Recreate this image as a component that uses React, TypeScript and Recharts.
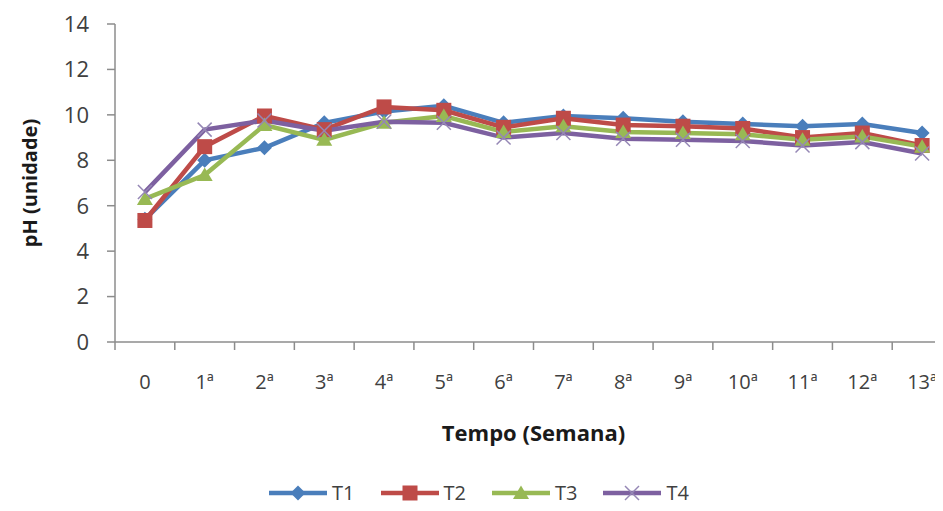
import React from 'react';
import { LineChart, Line, XAxis, YAxis } from 'recharts';

// semanas de coleta
const semanas = ['0', '1ª', '2ª', '3ª', '4ª', '5ª', '6ª', '7ª', '8ª', '9ª', '10ª', '11ª', '12ª', '13ª'];

// pH por tratamento
const t1 = [5.4, 8.0, 8.55, 9.65, 10.15, 10.4, 9.65, 9.95, 9.85, 9.7, 9.6, 9.5, 9.6, 9.2];
const t2 = [5.35, 8.6, 9.95, 9.35, 10.35, 10.2, 9.45, 9.85, 9.55, 9.5, 9.4, 9.0, 9.2, 8.65];
const t3 = [6.3, 7.35, 9.55, 8.9, 9.65, 9.95, 9.25, 9.5, 9.25, 9.2, 9.15, 8.9, 9.05, 8.6];
const t4 = [6.6, 9.35, 9.75, 9.3, 9.7, 9.65, 9.0, 9.2, 8.95, 8.9, 8.85, 8.65, 8.8, 8.3];

const series = ['T1', 'T2', 'T3', 'T4'];
const yTicks = [0, 2, 4, 6, 8, 10, 12, 14];

const dados = semanas.map((s, i) => ({ x: i, semana: s, T1: t1[i], T2: t2[i], T3: t3[i], T4: t4[i] }));

// ticks nas divisas entre categorias + rótulos no centro
const xTicks = semanas.flatMap((_, i) => [i - 0.5, i]).concat(semanas.length - 0.5);

const FONT = '"Open Sans", sans-serif';
const AXIS = '#8c8c8c';

const cores: Record<string, string> = {
  T1: '#4A7EBB',
  T2: '#BE4B48',
  T3: '#98B954',
  T4: '#7D60A0',
};

const marcador = (serie: string, cx: number, cy: number, key?: string) => {
  if (serie === 'T1') {
    const r = 7.5;
    return <path key={key} d={`M${cx},${cy - r}L${cx + r},${cy}L${cx},${cy + r}L${cx - r},${cy}Z`} fill={cores.T1} />;
  }
  if (serie === 'T2') {
    const r = 7.5;
    return <rect key={key} x={cx - r} y={cy - r} width={r * 2} height={r * 2} fill={cores.T2} />;
  }
  if (serie === 'T3') {
    return <path key={key} d={`M${cx},${cy - 7.5}L${cx + 8},${cy + 6}L${cx - 8},${cy + 6}Z`} fill={cores.T3} />;
  }
  const r = 7;
  return (
    <g key={key}>
      <line x1={cx - r} y1={cy - r} x2={cx + r} y2={cy + r} stroke="#9587B5" strokeWidth={1.5} />
      <line x1={cx - r} y1={cy + r} x2={cx + r} y2={cy - r} stroke="#9587B5" strokeWidth={1.5} />
    </g>
  );
};

const dotDe = (serie: string) => (props: any) => marcador(serie, props.cx, props.cy, `${serie}-${props.index}`);

const XTick = ({ x, y, payload }: any) => {
  const v = payload.value;
  if (Number.isInteger(v)) {
    return (
      <text x={x} y={y + 47} textAnchor="middle" fill="#404040" fontSize={20} fontFamily={FONT}>
        {semanas[v]}
      </text>
    );
  }
  return <line x1={x} y1={y} x2={x} y2={y + 8} stroke={AXIS} strokeWidth={1.5} />;
};

const Legenda = () => (
  <div
    style={{
      position: 'absolute',
      left: 0,
      top: 480,
      width: 958,
      height: 26,
      display: 'flex',
      justifyContent: 'center',
      alignItems: 'center',
      fontFamily: FONT,
      fontSize: 20,
      lineHeight: '24px',
      color: '#404040',
    }}
  >
    {series.map((s) => (
      <div key={s} style={{ display: 'flex', alignItems: 'center', margin: '0 13px' }}>
        <svg width={58} height={18} style={{ marginRight: 5 }}>
          <line x1={0} y1={9} x2={58} y2={9} stroke={cores[s]} strokeWidth={4.5} />
          {marcador(s, 29, 9)}
        </svg>
        <span>{s}</span>
      </div>
    ))}
  </div>
);

export default function App() {
  return (
    <div style={{ margin: -8, width: 943, height: 511, overflow: 'hidden', position: 'relative', background: '#fff' }}>
      <LineChart width={960} height={511} data={dados} margin={{ top: 24, right: 8, bottom: 40, left: 0 }}>
        <XAxis
          dataKey="x"
          type="number"
          domain={[-0.5, semanas.length - 0.5]}
          ticks={xTicks}
          interval={0}
          tick={<XTick />}
          tickLine={false}
          tickSize={0}
          tickMargin={0}
          height={129}
          axisLine={{ stroke: AXIS, strokeWidth: 1.5 }}
          label={{
            value: 'Tempo (Semana)',
            position: 'insideBottom',
            offset: 30,
            style: { fontFamily: FONT, fontWeight: 'bold', fontSize: 22, fill: '#1a1a1a' },
          }}
        />
        <YAxis
          domain={[0, 14]}
          ticks={yTicks}
          width={115}
          tickSize={8}
          tickMargin={18}
          tick={{ fill: '#404040', fontSize: 22, fontFamily: FONT }}
          tickLine={{ stroke: AXIS, strokeWidth: 1.5 }}
          axisLine={{ stroke: AXIS, strokeWidth: 1.5 }}
          label={{
            value: 'pH (unidade)',
            angle: -90,
            position: 'insideLeft',
            offset: 30,
            style: { textAnchor: 'middle', fontFamily: FONT, fontWeight: 'bold', fontSize: 20, fill: '#1a1a1a' },
          }}
        />
        {series.map((s) => (
          <Line
            key={s}
            dataKey={s}
            name={s}
            stroke={cores[s]}
            strokeWidth={4.5}
            dot={dotDe(s)}
            activeDot={false}
            isAnimationActive={false}
          />
        ))}
      </LineChart>
      <Legenda />
    </div>
  );
}
